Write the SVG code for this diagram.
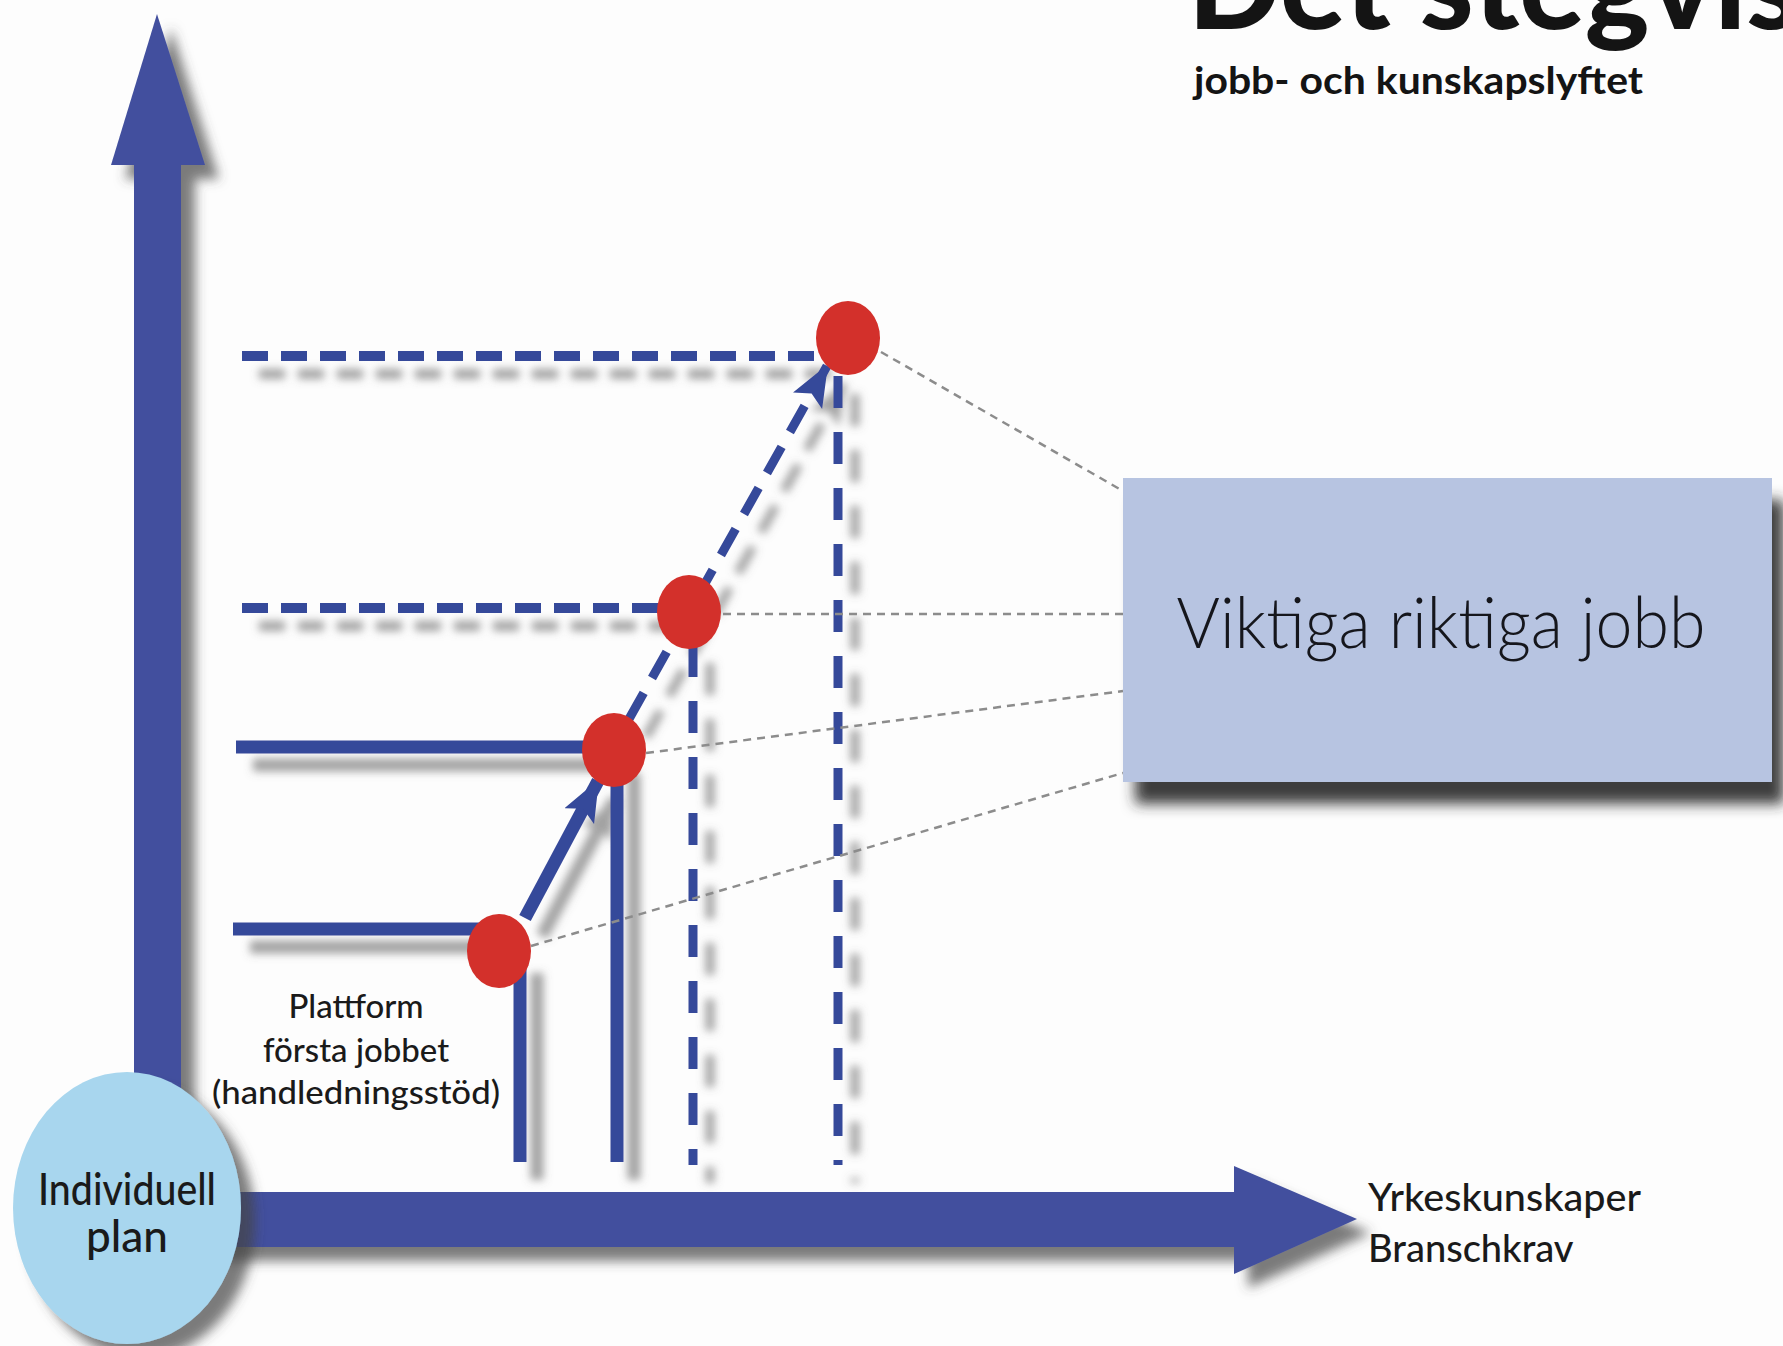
<svg xmlns="http://www.w3.org/2000/svg" width="1783" height="1346" viewBox="0 0 1783 1346">
<style>
.ax{fill:#42509e}
.solid{stroke:#36489a;stroke-width:13;fill:none}
.hdash{stroke:#36489a;stroke-width:10;fill:none;stroke-dasharray:26 13}
.vdash{stroke:#36489a;stroke-width:9;fill:none;stroke-dasharray:32 24}
.ddash{stroke:#36489a;stroke-width:9;fill:none;stroke-dasharray:30 17}
.dot{fill:#d3302b}
.conn{stroke:#8c8c8c;stroke-width:2.5;fill:none;stroke-dasharray:8 6}
.lbl{font-family:Lato,"Liberation Sans",sans-serif;font-weight:500;fill:#1a1a1a}
</style>
<defs>
<filter id="shAx" filterUnits="userSpaceOnUse" x="0" y="0" width="1783" height="1346">
<feGaussianBlur in="SourceAlpha" stdDeviation="6"/>
<feOffset dx="14" dy="14" result="b"/>
<feFlood flood-color="#444" flood-opacity="0.7"/>
<feComposite in2="b" operator="in"/>
<feMerge><feMergeNode/><feMergeNode in="SourceGraphic"/></feMerge>
</filter>
<filter id="shLn" filterUnits="userSpaceOnUse" x="0" y="0" width="1783" height="1346">
<feGaussianBlur in="SourceAlpha" stdDeviation="4"/>
<feOffset dx="17" dy="18" result="b"/>
<feFlood flood-color="#666" flood-opacity="0.6"/>
<feComposite in2="b" operator="in"/>
<feMerge><feMergeNode/><feMergeNode in="SourceGraphic"/></feMerge>
</filter>
<filter id="shBox" filterUnits="userSpaceOnUse" x="0" y="0" width="1783" height="1346">
<feGaussianBlur in="SourceAlpha" stdDeviation="7"/>
<feOffset dx="12" dy="22" result="b"/>
<feFlood flood-color="#2a2a2a" flood-opacity="0.9"/>
<feComposite in2="b" operator="in"/>
<feMerge><feMergeNode/><feMergeNode in="SourceGraphic"/></feMerge>
</filter>
<marker id="ah" viewBox="0 0 40 32" refX="38" refY="16" markerWidth="42" markerHeight="34" markerUnits="userSpaceOnUse" orient="auto">
<path d="M0,0 L40,16 L0,32 L8,16 z" fill="#36489a"/>
</marker>
</defs>
<rect x="0" y="0" width="1783" height="1346" fill="#fdfdfd"/>

<g id="title">
<text x="1188" y="29" font-family="Lato,'Liberation Sans',sans-serif" font-weight="900" font-size="122" fill="#141414">Det stegvis</text>
<text x="1194" y="94" font-family="Lato,'Liberation Sans',sans-serif" font-weight="700" font-size="38" fill="#141414" textLength="449" lengthAdjust="spacingAndGlyphs">jobb- och kunskapslyftet</text>
</g>

<g id="y-axis" filter="url(#shAx)">
<rect class="ax" x="134" y="160" width="47" height="950"/>
<polygon class="ax" points="157,14 205,165 111,165"/>
</g>

<g id="x-axis" filter="url(#shAx)">
<rect class="ax" x="200" y="1192" width="1040" height="55"/>
<polygon class="ax" points="1234,1166 1357,1219 1234,1274"/>
</g>

<g id="levels" filter="url(#shLn)">
<line class="hdash" x1="242" y1="356" x2="820" y2="356"/>
<line class="hdash" x1="242" y1="608" x2="662" y2="608"/>
<line class="solid" x1="236" y1="747" x2="610" y2="747"/>
<line class="solid" x1="233" y1="929" x2="495" y2="929"/>
<line class="solid" x1="520" y1="955" x2="520" y2="1162"/>
<line class="solid" x1="617" y1="755" x2="617" y2="1162"/>
<line class="vdash" x1="693" y1="645" x2="693" y2="1165"/>
<line class="vdash" x1="838" y1="376" x2="838" y2="1165"/>
<line class="solid" x1="525" y1="918" x2="598" y2="781" stroke-width="8" marker-end="url(#ah)"/>
<line class="ddash" x1="629" y1="719" x2="827" y2="366" marker-end="url(#ah)"/>
</g>

<g id="connectors">
<line class="conn" x1="881" y1="352" x2="1123" y2="491"/>
<line class="conn" x1="723" y1="614" x2="1123" y2="614"/>
<line class="conn" x1="646" y1="753" x2="1123" y2="691"/>
<line class="conn" x1="531" y1="946" x2="1123" y2="773"/>
</g>

<g id="dots">
<ellipse class="dot" cx="499" cy="951" rx="32" ry="37"/>
<ellipse class="dot" cx="614" cy="750" rx="32" ry="37"/>
<ellipse class="dot" cx="689" cy="612" rx="32" ry="37"/>
<ellipse class="dot" cx="848" cy="338" rx="32" ry="37"/>
</g>

<g id="box-viktiga">
<rect x="1123" y="478" width="649" height="304" fill="#b7c4e1" filter="url(#shBox)"/>
<text x="1441" y="648" text-anchor="middle" font-family="Lato,'DejaVu Sans',sans-serif" font-weight="300" font-size="70" fill="#15161c" textLength="529" lengthAdjust="spacingAndGlyphs">Viktiga riktiga jobb</text>
</g>

<g id="plan" filter="url(#shAx)">
<ellipse cx="127" cy="1208" rx="114" ry="136" fill="#a8d6ee"/>
</g>
<g id="plan-text">
<text class="lbl" x="127" y="1205" text-anchor="middle" font-size="44" textLength="178" lengthAdjust="spacingAndGlyphs">Individuell</text>
<text class="lbl" x="127" y="1252" text-anchor="middle" font-size="44">plan</text>
</g>

<g id="plattform-label">
<text class="lbl" x="356" y="1018" text-anchor="middle" font-size="33">Plattform</text>
<text class="lbl" x="356" y="1062" text-anchor="middle" font-size="33">första jobbet</text>
<text class="lbl" x="356" y="1104" text-anchor="middle" font-size="33" textLength="288" lengthAdjust="spacingAndGlyphs">(handledningsstöd)</text>
</g>

<g id="x-label">
<text class="lbl" x="1368" y="1211" font-size="38" textLength="273" lengthAdjust="spacingAndGlyphs">Yrkeskunskaper</text>
<text class="lbl" x="1368" y="1262" font-size="38">Branschkrav</text>
</g>
</svg>
